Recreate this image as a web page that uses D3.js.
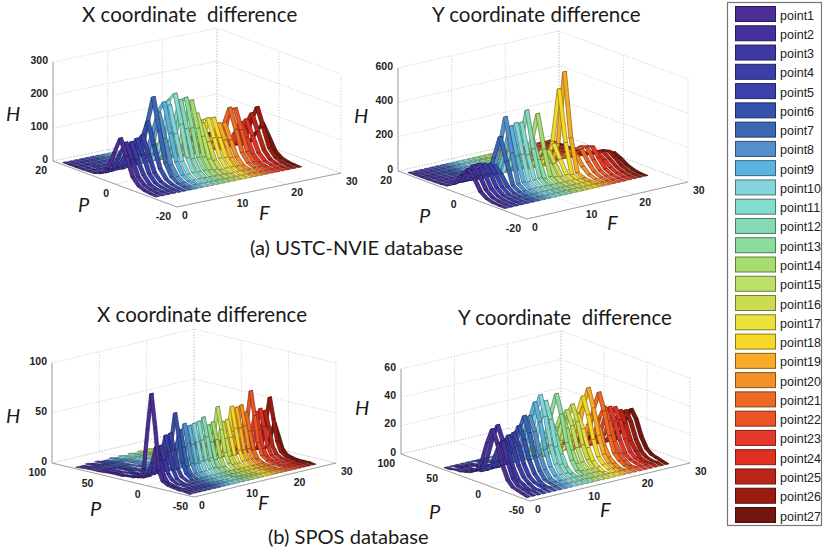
<!DOCTYPE html>
<html>
<head>
<meta charset="utf-8">
<script src="https://cdnjs.cloudflare.com/ajax/libs/d3/7.8.5/d3.min.js"></script>
<style>
html, body { margin: 0; padding: 0; background: #fff; }
svg { display: block; }
.title { font-family: Lato, "Open Sans", sans-serif; font-size: 20.5px; fill: #1a1a1a; white-space: pre; }
.caption { font-size: 20.1px; }
.tick { font-family: "Liberation Sans", Arial, sans-serif; font-size: 10.5px; font-weight: bold; fill: #222; }
.axlabel { font-family: Lato, "Open Sans", sans-serif; font-size: 20px; font-style: italic; fill: #1a1a1a; }
.legendtext { font-family: "Liberation Sans", Arial, sans-serif; font-size: 12.5px; fill: #222; }
</style>
</head>
<body>
<script>
var pointNames = ["point1","point2","point3","point4","point5","point6","point7","point8","point9",
    "point10","point11","point12","point13","point14","point15","point16","point17","point18",
    "point19","point20","point21","point22","point23","point24","point25","point26","point27"];

var pointColors = ["#4b2e96","#43329e","#3f38a4","#3b3da8","#3c41ab","#3651ac","#3b68b4","#5590cc","#5ab4df",
    "#84d4dc","#84dccc","#86d9b4","#8cdc9c","#a6dc70","#bce068","#ccdc50","#ece03c","#f6d828",
    "#f8ac28","#f49028","#ee6a24","#ec5428","#e63828","#e03024","#bc2418","#9a1c10","#741610"];

// P samples for each database
var ustcP = [18,16,14,12,10,8,6,4,2,0,-2,-4,-6,-8,-10,-12];
var sposXP = [78,66,54,42,30,24,18,12,8,4,0,-4,-8,-12,-18,-24,-30,-36,-42];
var sposYP = [54,48,42,36,30,24,18,12,6,0,-6,-12,-18,-24,-30,-36,-42];

// one row per point, one value per P sample
var xUstcH = [
[0,0,0,0,1,2,8,30,84,136,88,32,11,4,1,0],
[0,0,0,0,1,2,7,26,76,120,74,28,10,4,1,0],
[0,0,0,1,1,3,8,28,72,118,70,30,9,3,1,0],
[0,0,0,0,1,2,9,30,80,125,82,31,10,4,1,0],
[0,0,0,0,2,3,8,32,90,132,80,30,11,4,1,0],
[0,0,0,0,1,3,10,38,105,170,104,40,14,5,1,0],
[0,0,0,0,2,4,14,50,150,240,145,54,18,6,2,0],
[0,0,0,0,2,4,12,44,120,190,118,44,16,5,1,0],
[0,0,0,1,2,4,13,48,180,218,130,50,17,6,2,0],
[0,0,0,0,2,4,12,45,126,205,125,48,16,6,2,0],
[0,0,0,1,2,5,14,52,210,237,150,56,18,7,2,0],
[0,0,0,0,2,4,13,48,135,215,134,50,17,6,2,0],
[0,0,0,1,2,4,13,50,195,218,132,50,18,6,2,0],
[0,0,0,0,2,4,12,46,130,206,128,48,16,6,2,0],
[0,0,0,0,2,3,10,36,102,163,100,38,13,5,1,0],
[0,0,0,0,1,3,8,30,82,130,80,31,10,4,1,0],
[0,0,0,0,2,3,8,32,128,142,88,34,11,4,1,0],
[0,0,0,0,1,3,9,32,124,140,86,33,11,5,1,0],
[0,0,0,0,1,2,7,27,76,120,75,29,10,4,1,0],
[0,0,0,0,2,2,7,26,74,118,72,28,9,4,1,0],
[0,0,0,0,2,3,10,36,100,160,100,38,13,5,1,0],
[0,0,0,0,1,3,9,34,140,155,96,36,12,5,1,0],
[0,0,0,0,1,2,7,25,68,110,70,26,9,3,1,0],
[0,0,0,0,1,2,7,26,72,115,71,27,9,4,1,0],
[0,0,0,0,1,3,8,30,82,130,80,31,10,4,1,0],
[0,0,0,0,2,3,9,32,92,145,90,34,12,4,1,0],
[0,0,0,0,1,2,6,21,58,92,58,22,8,3,1,0]
];

var yUstcH = [
[0,0,0,0,1,2,6,28,95,147,105,40,12,3,1,0],
[0,0,0,1,1,3,8,32,104,161,112,44,13,4,1,0],
[0,0,0,0,1,3,9,34,108,163,110,42,14,3,1,0],
[0,0,0,0,1,2,7,30,100,155,108,40,12,4,1,0],
[0,0,0,1,1,3,8,28,96,147,100,38,11,3,1,0],
[0,0,0,0,1,2,6,24,84,132,92,34,10,3,1,0],
[0,0,0,0,1,3,7,28,150,290,160,34,10,3,0,0],
[0,0,0,0,1,2,8,30,190,398,200,36,9,3,1,0],
[0,0,0,0,1,3,7,32,170,338,176,38,10,2,0,0],
[0,0,0,1,1,3,8,30,172,349,180,34,11,3,1,0],
[0,0,0,0,1,2,8,34,176,345,170,36,10,3,1,0],
[0,0,0,0,1,3,8,36,200,409,196,40,11,3,0,0],
[0,0,0,0,1,2,7,26,120,237,125,30,9,2,1,0],
[0,0,0,0,1,3,8,32,186,374,180,34,10,3,0,0],
[0,0,0,1,1,2,6,22,90,165,92,26,8,2,1,0],
[0,0,0,0,1,2,5,18,80,147,84,22,7,2,0,0],
[0,0,0,0,1,2,6,22,96,178,100,24,8,2,1,0],
[0,0,0,0,1,2,5,14,170,490,190,18,5,2,0,0],
[0,0,0,0,0,1,3,10,150,582,210,22,5,1,0,0],
[0,0,0,1,2,4,9,26,72,118,104,50,18,5,1,0],
[0,0,0,1,2,5,12,32,80,124,130,70,26,8,2,0],
[0,0,0,1,2,5,12,34,88,128,134,76,28,9,2,0],
[0,0,0,1,2,4,11,30,82,120,132,80,30,10,3,0],
[0,0,0,1,2,4,10,26,60,82,90,62,30,12,4,1],
[0,0,0,1,2,4,9,24,56,78,87,60,30,12,4,1],
[0,0,0,1,2,4,8,22,54,76,85,60,28,11,4,1],
[0,0,0,0,1,3,7,18,44,62,68,50,24,10,3,1]
];

var xSposH = [
[0,1,1,2,2,3,3,5,14,55,91,58,16,6,3,2,1,1,0],
[0,1,1,1,1,2,2,3,7,20,37,24,10,4,2,1,1,1,0],
[1,1,1,1,2,2,2,3,8,21,37,23,10,5,2,2,1,1,0],
[0,1,1,2,1,2,2,4,9,25,46,30,13,5,2,2,1,1,0],
[1,1,1,1,2,2,2,4,10,26,47,31,13,6,3,2,1,1,0],
[0,1,1,1,2,2,3,5,13,36,66,43,18,8,3,2,1,1,0],
[0,1,1,2,2,2,2,4,10,27,48,31,13,6,3,2,1,1,0],
[1,1,2,2,2,2,3,4,11,29,53,34,15,6,3,2,1,1,0],
[0,1,2,2,2,3,2,4,10,28,50,32,14,6,3,2,1,1,0],
[1,1,1,2,2,2,3,4,10,45,51,33,15,6,3,2,1,1,0],
[0,1,2,2,2,3,3,4,11,46,52,34,15,7,3,2,1,1,0],
[1,1,1,2,3,2,3,5,11,31,55,36,16,7,3,2,2,1,0],
[0,1,2,2,2,3,2,4,9,26,46,30,13,6,3,2,1,1,0],
[1,1,1,2,2,2,3,4,10,27,48,31,14,6,3,2,1,1,0],
[0,1,2,2,3,3,3,5,13,34,62,40,18,8,3,2,1,1,0],
[1,1,2,2,2,2,3,4,9,26,46,30,13,6,3,2,1,1,0],
[0,1,1,2,2,3,2,4,10,27,47,30,13,6,3,2,1,1,0],
[1,1,2,3,2,3,3,5,12,33,59,38,17,7,3,2,2,1,0],
[0,1,2,2,3,2,3,5,12,32,57,37,16,7,3,2,1,1,0],
[1,1,1,2,2,3,3,5,12,33,58,38,16,7,3,2,1,1,0],
[0,1,2,2,2,2,3,4,10,28,50,32,14,6,3,2,1,1,0],
[1,1,2,3,3,3,3,6,14,40,70,46,20,8,4,2,2,1,0],
[0,1,2,2,2,2,2,4,10,27,48,31,13,6,3,2,1,1,0],
[1,1,1,2,2,3,3,4,10,28,50,33,14,6,3,2,1,1,0],
[0,1,2,2,2,2,2,4,9,26,47,31,13,6,3,2,1,1,0],
[1,1,2,2,3,3,3,5,12,33,59,38,17,7,3,2,1,1,0],
[0,1,1,1,2,2,2,3,6,18,32,21,9,4,2,1,1,1,0]
];

var ySposH = [
[0,0,1,1,2,3,6,14,28,39,30,16,7,3,2,1,0],
[0,1,1,1,2,3,6,15,30,41,31,17,7,3,2,1,0],
[0,0,1,1,2,2,4,11,22,30,23,12,5,3,1,1,0],
[0,0,1,2,2,2,5,11,23,32,24,13,6,3,1,1,0],
[0,0,1,1,2,2,5,12,24,33,25,13,6,3,2,1,0],
[0,1,1,1,2,2,5,13,27,37,28,15,7,3,1,1,0],
[0,0,1,2,2,3,6,15,31,43,32,17,8,3,2,1,0],
[0,0,1,1,2,3,6,15,30,42,32,17,8,3,2,1,0],
[0,1,1,2,3,3,7,18,37,51,38,20,9,4,2,1,0],
[0,0,1,2,2,3,8,19,40,55,41,22,10,4,2,1,0],
[0,0,1,1,3,3,7,18,36,50,38,20,9,4,2,1,0],
[0,1,1,2,2,2,5,12,25,35,26,14,6,3,2,1,0],
[0,0,1,2,3,3,7,19,38,53,40,21,10,4,2,1,0],
[0,0,1,1,2,2,5,13,27,38,29,15,7,3,2,1,0],
[0,1,1,2,2,2,6,14,29,40,30,16,7,3,2,1,0],
[0,0,1,2,3,3,6,15,31,43,32,17,8,3,2,1,0],
[0,0,1,1,2,2,5,12,25,35,26,14,6,3,1,1,0],
[0,1,1,2,3,3,7,16,34,47,35,19,8,4,2,1,0],
[0,0,1,2,3,3,7,18,37,52,39,21,9,4,2,1,0],
[0,0,1,1,2,2,5,12,24,33,25,13,6,3,1,1,0],
[0,1,1,2,2,3,7,16,34,47,35,19,8,4,2,1,0],
[0,0,1,1,2,2,5,13,26,36,27,14,7,3,1,1,0],
[0,0,1,2,2,2,5,12,25,35,26,14,6,3,2,1,0],
[0,1,1,1,2,2,5,12,24,34,26,14,6,3,2,1,0],
[0,0,1,2,2,2,4,11,22,31,23,12,6,2,1,1,0],
[0,0,1,1,2,2,4,11,22,30,23,12,5,2,1,1,0],
[0,0,1,1,2,2,4,11,21,30,24,13,6,3,2,1,0]
];

var width = 824,
    height = 552,
    ribbonWidth = 0.72,
    fTicks = [0, 10, 20, 30];

// corners of each floor: L left, C front, R right
var panels = [
    { title: "X coordinate  difference", titleX: 82, titleY: 22, heights: xUstcH, pSamples: ustcP,
      pDomain: [20, -20], pTicks: [20, 0, -20], hMax: 300, hTicks: [0, 100, 200, 300],
      L: [53, 161], C: [177, 207], R: [341, 173], hPx: 99,
      hLabel: [6, 121], pLabel: [78, 212], fLabel: [259, 220] },
    { title: "Y coordinate difference", titleX: 432, titleY: 22, heights: yUstcH, pSamples: ustcP,
      pDomain: [20, -20], pTicks: [20, 0, -20], hMax: 600, hTicks: [0, 200, 400, 600],
      L: [398, 171], C: [527, 219], R: [688, 182], hPx: 103,
      hLabel: [354, 123], pLabel: [419, 223], fLabel: [607, 230] },
    { title: "X coordinate difference", titleX: 97, titleY: 322, heights: xSposH, pSamples: sposXP,
      pDomain: [100, -50], pTicks: [100, 50, 0, -50], hMax: 100, hTicks: [0, 50, 100],
      L: [52, 463], C: [194, 497], R: [336, 463], hPx: 100,
      hLabel: [6, 423], pLabel: [90, 516], fLabel: [258, 510] },
    { title: "Y coordinate  difference", titleX: 458, titleY: 325, heights: ySposH, pSamples: sposYP,
      pDomain: [100, -50], pTicks: [100, 50, 0, -50], hMax: 60, hTicks: [0, 20, 40, 60],
      L: [401, 454], C: [530, 501], R: [690, 463], hPx: 85,
      hLabel: [355, 415], pLabel: [429, 519], fLabel: [600, 517] }
];

var captions = [
    { text: "(a) USTC-NVIE database", x: 250, y: 255 },
    { text: "(b) SPOS database", x: 268, y: 544 }
];

var svg = d3.select("body")
    .append("svg")
    .attr("width", width)
    .attr("height", height);

var defs = svg.append("defs");
defs.append("filter").attr("id", "soft")
    .append("feGaussianBlur").attr("stdDeviation", 0.35);

panels.forEach(function(p) {
    // oblique projection: each data axis moves the point along its own screen direction
    var fx = d3.scaleLinear().domain([0, 30]).range([0, p.R[0] - p.C[0]]);
    var fy = d3.scaleLinear().domain([0, 30]).range([0, p.R[1] - p.C[1]]);
    var px = d3.scaleLinear().domain(p.pDomain).range([p.L[0], p.C[0]]);
    var py = d3.scaleLinear().domain(p.pDomain).range([p.L[1], p.C[1]]);
    var hy = d3.scaleLinear().domain([0, p.hMax]).range([0, -p.hPx]);

    var project = function(f, pv, h) {
        return [fx(f) + px(pv), fy(f) + py(pv) + hy(h)];
    };
    var line = d3.line();
    var g = svg.append("g");
    var pTop = p.pDomain[0], pBottom = p.pDomain[1];

    // back walls and floor
    var grid = [];
    p.hTicks.forEach(function(h) {
        grid.push([project(0, pTop, h), project(30, pTop, h), project(30, pBottom, h)]);
    });
    fTicks.forEach(function(f) {
        grid.push([project(f, pTop, 0), project(f, pTop, p.hMax)]);
        grid.push([project(f, pTop, 0), project(f, pBottom, 0)]);
    });
    p.pTicks.forEach(function(v) {
        grid.push([project(30, v, 0), project(30, v, p.hMax)]);
        grid.push([project(0, v, 0), project(30, v, 0)]);
    });
    g.selectAll(".grid")
        .data(grid)
        .join("path")
        .attr("class", "grid")
        .attr("d", line)
        .attr("fill", "none")
        .attr("stroke", "#c8c8c8")
        .attr("stroke-width", 0.7)
        .attr("stroke-dasharray", "1.5,1.5");

    // axis lines
    var axes = [
        [project(0, pTop, 0), project(0, pBottom, 0), project(30, pBottom, 0)],
        [project(0, pTop, 0), project(0, pTop, p.hMax)]
    ];
    g.selectAll(".axisline")
        .data(axes)
        .join("path")
        .attr("class", "axisline")
        .attr("d", line)
        .attr("fill", "none")
        .attr("stroke", "#9a9a9a")
        .attr("stroke-width", 0.9);

    // ribbons, far ones first so nearer ones cover them
    var quads = [];
    for (var i = p.heights.length - 1; i >= 0; i--) {
        var row = p.heights[i], f = i + 1;
        for (var j = 0; j < row.length - 1; j++) {
            quads.push({
                color: pointColors[i],
                pts: [
                    project(f - ribbonWidth / 2, p.pSamples[j], row[j]),
                    project(f + ribbonWidth / 2, p.pSamples[j], row[j]),
                    project(f + ribbonWidth / 2, p.pSamples[j + 1], row[j + 1]),
                    project(f - ribbonWidth / 2, p.pSamples[j + 1], row[j + 1])
                ]
            });
        }
    }
    g.append("g")
        .attr("filter", "url(#soft)")
        .selectAll("path")
        .data(quads)
        .join("path")
        .attr("d", function(d) { return line(d.pts) + "Z"; })
        .attr("fill", function(d) { return d.color; })
        .attr("stroke", function(d) { return d3.color(d.color).darker(1.6); })
        .attr("stroke-width", 0.7);

    // tick labels
    g.selectAll(".htick")
        .data(p.hTicks)
        .join("text")
        .attr("class", "tick htick")
        .attr("x", function(d) { return project(0, pTop, d)[0] - 5; })
        .attr("y", function(d) { return project(0, pTop, d)[1] + 1.5; })
        .attr("text-anchor", "end")
        .text(function(d) { return d; });
    g.selectAll(".ptick")
        .data(p.pTicks)
        .join("text")
        .attr("class", "tick ptick")
        .attr("x", function(d) { return project(0, d, 0)[0] - 6; })
        .attr("y", function(d) { return project(0, d, 0)[1] + 12.5; })
        .attr("text-anchor", "end")
        .text(function(d) { return d; });
    g.selectAll(".ftick")
        .data(fTicks)
        .join("text")
        .attr("class", "tick ftick")
        .attr("x", function(d) { return project(d, pBottom, 0)[0] + 5; })
        .attr("y", function(d) { return project(d, pBottom, 0)[1] + 11.5; })
        .text(function(d) { return d; });

    // axis names and title
    g.append("text").attr("class", "axlabel").attr("x", p.hLabel[0]).attr("y", p.hLabel[1]).text("H");
    g.append("text").attr("class", "axlabel").attr("x", p.pLabel[0]).attr("y", p.pLabel[1]).text("P");
    g.append("text").attr("class", "axlabel").attr("x", p.fLabel[0]).attr("y", p.fLabel[1]).text("F");
    g.append("text").attr("class", "title").attr("x", p.titleX).attr("y", p.titleY).text(p.title);
});

svg.selectAll(".captiontext")
    .data(captions)
    .join("text")
    .attr("class", "title caption captiontext")
    .attr("x", function(d) { return d.x; })
    .attr("y", function(d) { return d.y; })
    .text(function(d) { return d.text; });

// legend
var legendY = d3.scalePoint().domain(pointNames).range([14, 515]);

svg.append("rect")
    .attr("x", 727.5)
    .attr("y", 2.5)
    .attr("width", 94)
    .attr("height", 523)
    .attr("fill", "#fff")
    .attr("stroke", "#777")
    .attr("stroke-width", 1.2);

svg.selectAll(".swatch")
    .data(pointNames)
    .join("rect")
    .attr("class", "swatch")
    .attr("x", 735.5)
    .attr("y", function(d) { return legendY(d) - 7.5; })
    .attr("width", 40)
    .attr("height", 15)
    .attr("fill", function(d, i) { return pointColors[i]; })
    .attr("stroke", function(d, i) { return d3.color(pointColors[i]).darker(1.6); })
    .attr("stroke-width", 1);

svg.selectAll(".legendtext")
    .data(pointNames)
    .join("text")
    .attr("class", "legendtext")
    .attr("x", 780)
    .attr("y", function(d) { return legendY(d) + 5.5; })
    .text(function(d) { return d; });
</script>
</body>
</html>
